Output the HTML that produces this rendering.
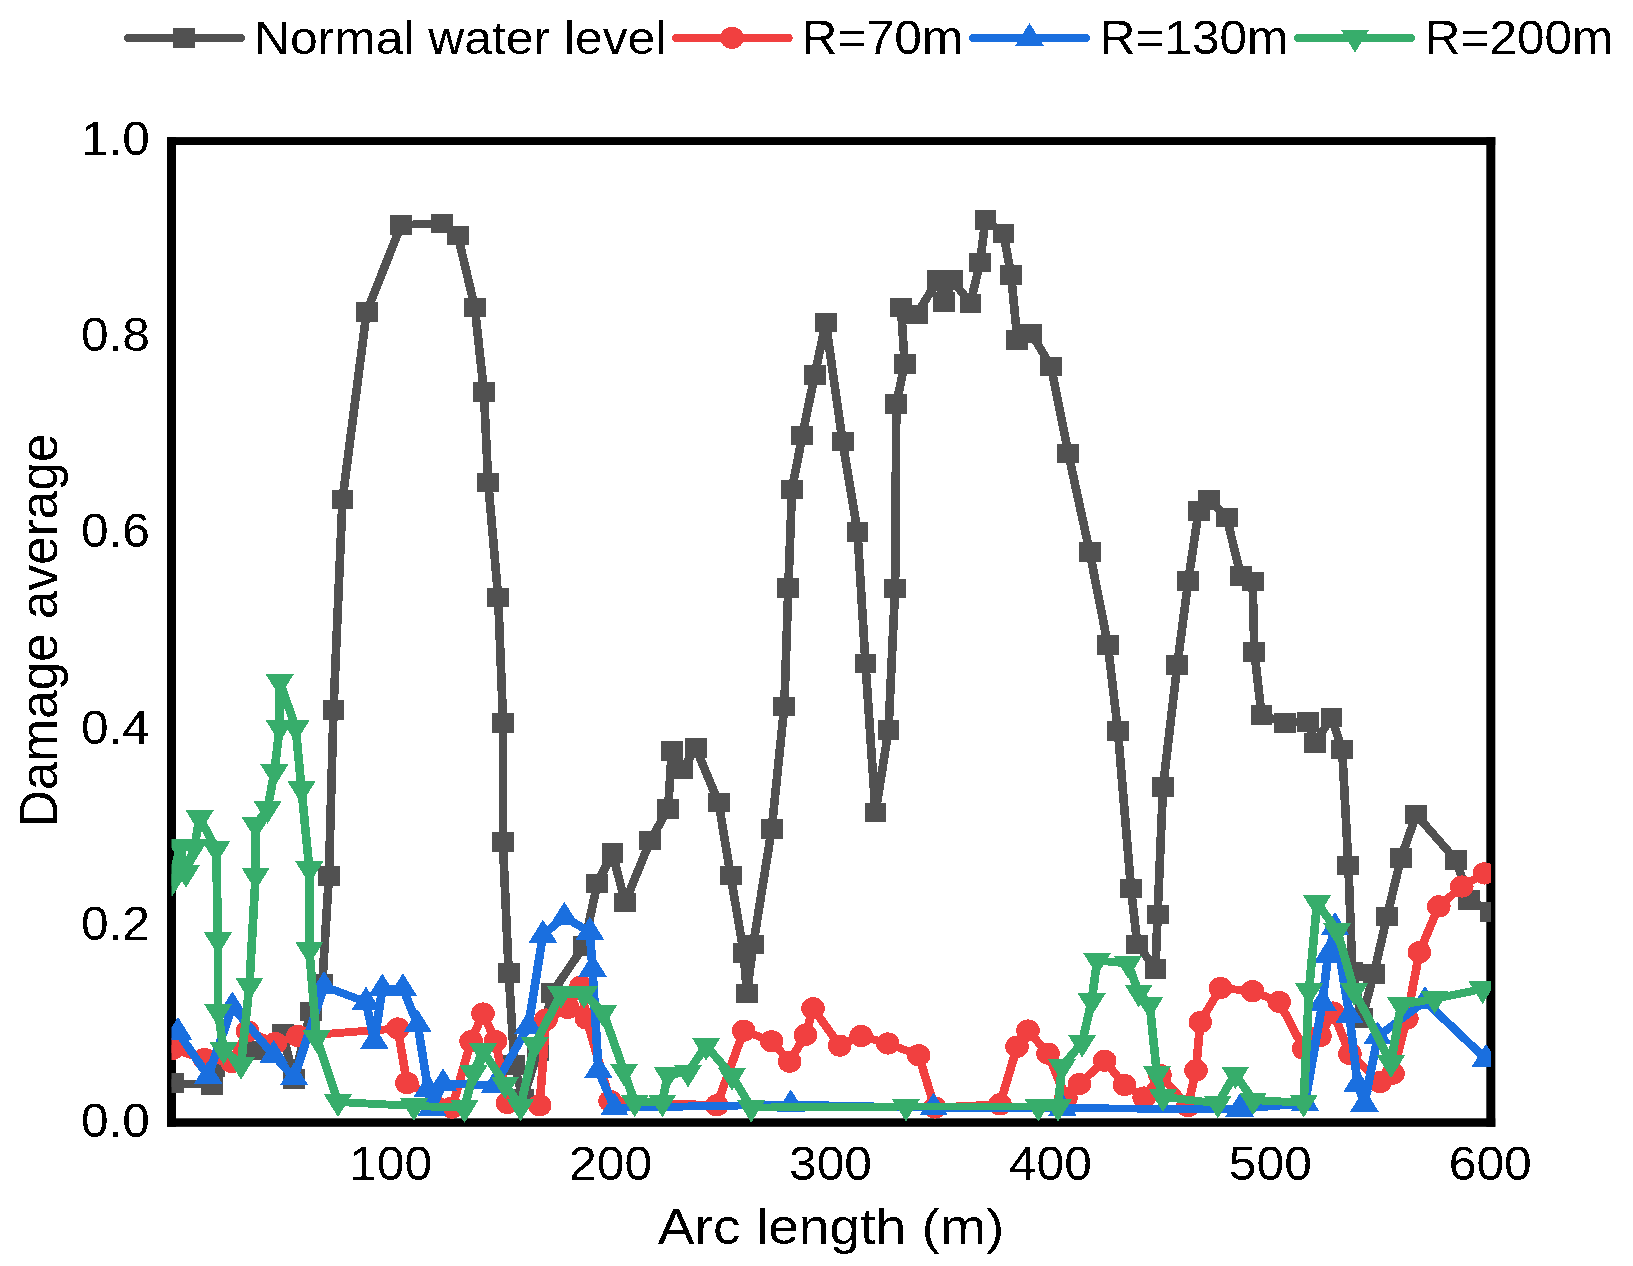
<!DOCTYPE html>
<html><head><meta charset="utf-8"><title>Damage average vs Arc length</title>
<style>html,body{margin:0;padding:0;background:#fff;} svg{display:block;}</style></head>
<body>
<svg width="1633" height="1266" viewBox="0 0 1633 1266">
<rect width="1633" height="1266" fill="#fff"/>
<g fill="#000">
<rect x="167.0" y="137.1" width="9.0" height="989.7"/>
<rect x="1486.3" y="137.1" width="9.0" height="989.7"/>
<rect x="167.0" y="137.1" width="1328.3" height="7.9"/>
<rect x="167.0" y="1118.3" width="1328.3" height="8.5"/>
</g>
<clipPath id="pc"><rect x="171.5" y="141.0" width="1319.5" height="981.5"/></clipPath>
<g clip-path="url(#pc)" shape-rendering="crispEdges">
<polyline transform="scale(1.1,1)" points="157.27,1083.00 192.73,1085.00 195.00,1067.00 232.27,1050.50 256.91,1033.50 267.27,1079.00 282.55,1011.30 293.00,983.80 299.00,875.80 303.18,709.80 311.36,499.70 333.27,312.10 364.82,224.80 401.45,223.60 416.18,235.50 431.64,307.30 439.91,391.80 443.82,482.30 452.91,597.70 457.36,722.90 457.18,842.20 462.45,972.80 467.64,1065.00 475.45,1099.00 489.09,1051.00 501.82,993.00 530.91,946.00 543.00,883.40 556.82,853.10 568.27,902.40 591.27,840.50 607.36,808.90 610.73,750.80 620.00,769.70 632.64,748.20 653.27,802.60 664.27,875.40 676.09,952.80 679.00,993.30 684.82,944.30 701.55,829.10 713.00,706.50 716.64,587.90 720.00,489.40 729.45,435.50 740.64,374.90 750.73,322.70 766.00,441.70 779.55,531.80 786.82,663.60 795.91,812.70 807.73,730.00 813.73,588.60 814.82,403.80 822.45,363.90 819.09,307.60 833.55,314.30 852.64,279.60 858.09,302.20 865.73,280.20 882.27,303.30 890.91,262.50 895.91,219.90 912.27,233.30 919.18,275.00 924.91,339.90 937.55,333.60 955.45,366.30 971.27,453.70 990.64,552.00 1007.18,644.80 1016.27,730.80 1028.18,888.50 1033.91,944.30 1050.45,968.80 1052.36,914.40 1057.27,787.00 1070.27,665.00 1080.27,580.80 1089.64,511.10 1099.27,499.80 1115.18,517.50 1128.09,576.20 1138.73,581.50 1140.36,651.90 1146.82,714.80 1167.82,723.00 1189.45,721.90 1195.27,743.20 1210.45,717.30 1220.18,749.60 1225.82,865.60 1229.36,971.30 1238.18,1018.00 1249.00,973.90 1260.91,916.70 1273.64,857.90 1287.55,814.60 1323.64,860.10 1335.82,900.00 1355.45,911.80" fill="none" stroke="#515151" stroke-width="7.9" stroke-linejoin="round" stroke-linecap="round"/>
<rect x="162.05" y="1073.25" width="21.9" height="19.5" fill="#515151"/>
<rect x="201.05" y="1075.25" width="21.9" height="19.5" fill="#515151"/>
<rect x="203.55" y="1057.25" width="21.9" height="19.5" fill="#515151"/>
<rect x="244.55" y="1040.75" width="21.9" height="19.5" fill="#515151"/>
<rect x="271.65" y="1023.75" width="21.9" height="19.5" fill="#515151"/>
<rect x="283.05" y="1069.25" width="21.9" height="19.5" fill="#515151"/>
<rect x="299.85" y="1001.55" width="21.9" height="19.5" fill="#515151"/>
<rect x="311.35" y="974.05" width="21.9" height="19.5" fill="#515151"/>
<rect x="317.95" y="866.05" width="21.9" height="19.5" fill="#515151"/>
<rect x="322.55" y="700.05" width="21.9" height="19.5" fill="#515151"/>
<rect x="331.55" y="489.95" width="21.9" height="19.5" fill="#515151"/>
<rect x="355.65" y="302.35" width="21.9" height="19.5" fill="#515151"/>
<rect x="390.35" y="215.05" width="21.9" height="19.5" fill="#515151"/>
<rect x="430.65" y="213.85" width="21.9" height="19.5" fill="#515151"/>
<rect x="446.85" y="225.75" width="21.9" height="19.5" fill="#515151"/>
<rect x="463.85" y="297.55" width="21.9" height="19.5" fill="#515151"/>
<rect x="472.95" y="382.05" width="21.9" height="19.5" fill="#515151"/>
<rect x="477.25" y="472.55" width="21.9" height="19.5" fill="#515151"/>
<rect x="487.25" y="587.95" width="21.9" height="19.5" fill="#515151"/>
<rect x="492.15" y="713.15" width="21.9" height="19.5" fill="#515151"/>
<rect x="491.95" y="832.45" width="21.9" height="19.5" fill="#515151"/>
<rect x="497.75" y="963.05" width="21.9" height="19.5" fill="#515151"/>
<rect x="503.45" y="1055.25" width="21.9" height="19.5" fill="#515151"/>
<rect x="512.05" y="1089.25" width="21.9" height="19.5" fill="#515151"/>
<rect x="527.05" y="1041.25" width="21.9" height="19.5" fill="#515151"/>
<rect x="541.05" y="983.25" width="21.9" height="19.5" fill="#515151"/>
<rect x="573.05" y="936.25" width="21.9" height="19.5" fill="#515151"/>
<rect x="586.35" y="873.65" width="21.9" height="19.5" fill="#515151"/>
<rect x="601.55" y="843.35" width="21.9" height="19.5" fill="#515151"/>
<rect x="614.15" y="892.65" width="21.9" height="19.5" fill="#515151"/>
<rect x="639.45" y="830.75" width="21.9" height="19.5" fill="#515151"/>
<rect x="657.15" y="799.15" width="21.9" height="19.5" fill="#515151"/>
<rect x="660.85" y="741.05" width="21.9" height="19.5" fill="#515151"/>
<rect x="671.05" y="759.95" width="21.9" height="19.5" fill="#515151"/>
<rect x="684.95" y="738.45" width="21.9" height="19.5" fill="#515151"/>
<rect x="707.65" y="792.85" width="21.9" height="19.5" fill="#515151"/>
<rect x="719.75" y="865.65" width="21.9" height="19.5" fill="#515151"/>
<rect x="732.75" y="943.05" width="21.9" height="19.5" fill="#515151"/>
<rect x="735.95" y="983.55" width="21.9" height="19.5" fill="#515151"/>
<rect x="742.35" y="934.55" width="21.9" height="19.5" fill="#515151"/>
<rect x="760.75" y="819.35" width="21.9" height="19.5" fill="#515151"/>
<rect x="773.35" y="696.75" width="21.9" height="19.5" fill="#515151"/>
<rect x="777.35" y="578.15" width="21.9" height="19.5" fill="#515151"/>
<rect x="781.05" y="479.65" width="21.9" height="19.5" fill="#515151"/>
<rect x="791.45" y="425.75" width="21.9" height="19.5" fill="#515151"/>
<rect x="803.75" y="365.15" width="21.9" height="19.5" fill="#515151"/>
<rect x="814.85" y="312.95" width="21.9" height="19.5" fill="#515151"/>
<rect x="831.65" y="431.95" width="21.9" height="19.5" fill="#515151"/>
<rect x="846.55" y="522.05" width="21.9" height="19.5" fill="#515151"/>
<rect x="854.55" y="653.85" width="21.9" height="19.5" fill="#515151"/>
<rect x="864.55" y="802.95" width="21.9" height="19.5" fill="#515151"/>
<rect x="877.55" y="720.25" width="21.9" height="19.5" fill="#515151"/>
<rect x="884.15" y="578.85" width="21.9" height="19.5" fill="#515151"/>
<rect x="885.35" y="394.05" width="21.9" height="19.5" fill="#515151"/>
<rect x="893.75" y="354.15" width="21.9" height="19.5" fill="#515151"/>
<rect x="890.05" y="297.85" width="21.9" height="19.5" fill="#515151"/>
<rect x="905.95" y="304.55" width="21.9" height="19.5" fill="#515151"/>
<rect x="926.95" y="269.85" width="21.9" height="19.5" fill="#515151"/>
<rect x="932.95" y="292.45" width="21.9" height="19.5" fill="#515151"/>
<rect x="941.35" y="270.45" width="21.9" height="19.5" fill="#515151"/>
<rect x="959.55" y="293.55" width="21.9" height="19.5" fill="#515151"/>
<rect x="969.05" y="252.75" width="21.9" height="19.5" fill="#515151"/>
<rect x="974.55" y="210.15" width="21.9" height="19.5" fill="#515151"/>
<rect x="992.55" y="223.55" width="21.9" height="19.5" fill="#515151"/>
<rect x="1000.15" y="265.25" width="21.9" height="19.5" fill="#515151"/>
<rect x="1006.45" y="330.15" width="21.9" height="19.5" fill="#515151"/>
<rect x="1020.35" y="323.85" width="21.9" height="19.5" fill="#515151"/>
<rect x="1040.05" y="356.55" width="21.9" height="19.5" fill="#515151"/>
<rect x="1057.45" y="443.95" width="21.9" height="19.5" fill="#515151"/>
<rect x="1078.75" y="542.25" width="21.9" height="19.5" fill="#515151"/>
<rect x="1096.95" y="635.05" width="21.9" height="19.5" fill="#515151"/>
<rect x="1106.95" y="721.05" width="21.9" height="19.5" fill="#515151"/>
<rect x="1120.05" y="878.75" width="21.9" height="19.5" fill="#515151"/>
<rect x="1126.35" y="934.55" width="21.9" height="19.5" fill="#515151"/>
<rect x="1144.55" y="959.05" width="21.9" height="19.5" fill="#515151"/>
<rect x="1146.65" y="904.65" width="21.9" height="19.5" fill="#515151"/>
<rect x="1152.05" y="777.25" width="21.9" height="19.5" fill="#515151"/>
<rect x="1166.35" y="655.25" width="21.9" height="19.5" fill="#515151"/>
<rect x="1177.35" y="571.05" width="21.9" height="19.5" fill="#515151"/>
<rect x="1187.65" y="501.35" width="21.9" height="19.5" fill="#515151"/>
<rect x="1198.25" y="490.05" width="21.9" height="19.5" fill="#515151"/>
<rect x="1215.75" y="507.75" width="21.9" height="19.5" fill="#515151"/>
<rect x="1229.95" y="566.45" width="21.9" height="19.5" fill="#515151"/>
<rect x="1241.65" y="571.75" width="21.9" height="19.5" fill="#515151"/>
<rect x="1243.45" y="642.15" width="21.9" height="19.5" fill="#515151"/>
<rect x="1250.55" y="705.05" width="21.9" height="19.5" fill="#515151"/>
<rect x="1273.65" y="713.25" width="21.9" height="19.5" fill="#515151"/>
<rect x="1297.45" y="712.15" width="21.9" height="19.5" fill="#515151"/>
<rect x="1303.85" y="733.45" width="21.9" height="19.5" fill="#515151"/>
<rect x="1320.55" y="707.55" width="21.9" height="19.5" fill="#515151"/>
<rect x="1331.25" y="739.85" width="21.9" height="19.5" fill="#515151"/>
<rect x="1337.45" y="855.85" width="21.9" height="19.5" fill="#515151"/>
<rect x="1341.35" y="961.55" width="21.9" height="19.5" fill="#515151"/>
<rect x="1351.05" y="1008.25" width="21.9" height="19.5" fill="#515151"/>
<rect x="1362.95" y="964.15" width="21.9" height="19.5" fill="#515151"/>
<rect x="1376.05" y="906.95" width="21.9" height="19.5" fill="#515151"/>
<rect x="1390.05" y="848.15" width="21.9" height="19.5" fill="#515151"/>
<rect x="1405.35" y="804.85" width="21.9" height="19.5" fill="#515151"/>
<rect x="1445.05" y="850.35" width="21.9" height="19.5" fill="#515151"/>
<rect x="1458.45" y="890.25" width="21.9" height="19.5" fill="#515151"/>
<rect x="1480.05" y="902.05" width="21.9" height="19.5" fill="#515151"/>
<polyline transform="scale(1.1,1)" points="156.36,1049.00 185.91,1059.00 210.82,1062.00 225.00,1031.30 250.36,1043.00 270.91,1036.00 361.55,1028.50 370.00,1083.00 410.91,1107.60 428.27,1041.10 439.09,1013.50 450.55,1041.10 461.36,1103.00 490.64,1105.30 496.36,1019.50 516.36,1008.00 528.18,986.50 533.18,1018.50 554.64,1101.00 651.64,1105.30 676.09,1030.70 701.36,1041.30 717.82,1061.60 732.36,1034.90 739.18,1008.30 763.36,1045.60 782.82,1036.00 807.00,1043.50 835.18,1055.20 849.73,1107.50 909.09,1104.30 924.64,1046.70 934.55,1030.50 952.73,1053.60 969.09,1098.00 981.27,1084.00 1004.18,1060.70 1022.27,1085.00 1040.18,1097.50 1054.55,1075.00 1080.00,1106.00 1087.27,1070.30 1091.18,1022.10 1109.55,988.00 1138.64,991.20 1162.91,1001.90 1185.18,1048.80 1200.00,1036.00 1211.82,1012.50 1227.27,1054.00 1254.55,1082.00 1266.36,1073.60 1278.91,1018.60 1290.36,952.20 1308.00,906.40 1328.91,886.50 1349.55,873.40" fill="none" stroke="#F14040" stroke-width="7.9" stroke-linejoin="round" stroke-linecap="round"/>
<ellipse cx="172.00" cy="1049.00" rx="11.8" ry="11.1" fill="#F14040"/>
<ellipse cx="204.50" cy="1059.00" rx="11.8" ry="11.1" fill="#F14040"/>
<ellipse cx="231.90" cy="1062.00" rx="11.8" ry="11.1" fill="#F14040"/>
<ellipse cx="247.50" cy="1031.30" rx="11.8" ry="11.1" fill="#F14040"/>
<ellipse cx="275.40" cy="1043.00" rx="11.8" ry="11.1" fill="#F14040"/>
<ellipse cx="298.00" cy="1036.00" rx="11.8" ry="11.1" fill="#F14040"/>
<ellipse cx="397.70" cy="1028.50" rx="11.8" ry="11.1" fill="#F14040"/>
<ellipse cx="407.00" cy="1083.00" rx="11.8" ry="11.1" fill="#F14040"/>
<ellipse cx="452.00" cy="1107.60" rx="11.8" ry="11.1" fill="#F14040"/>
<ellipse cx="471.10" cy="1041.10" rx="11.8" ry="11.1" fill="#F14040"/>
<ellipse cx="483.00" cy="1013.50" rx="11.8" ry="11.1" fill="#F14040"/>
<ellipse cx="495.60" cy="1041.10" rx="11.8" ry="11.1" fill="#F14040"/>
<ellipse cx="507.50" cy="1103.00" rx="11.8" ry="11.1" fill="#F14040"/>
<ellipse cx="539.70" cy="1105.30" rx="11.8" ry="11.1" fill="#F14040"/>
<ellipse cx="546.00" cy="1019.50" rx="11.8" ry="11.1" fill="#F14040"/>
<ellipse cx="568.00" cy="1008.00" rx="11.8" ry="11.1" fill="#F14040"/>
<ellipse cx="581.00" cy="986.50" rx="11.8" ry="11.1" fill="#F14040"/>
<ellipse cx="586.50" cy="1018.50" rx="11.8" ry="11.1" fill="#F14040"/>
<ellipse cx="610.10" cy="1101.00" rx="11.8" ry="11.1" fill="#F14040"/>
<ellipse cx="716.80" cy="1105.30" rx="11.8" ry="11.1" fill="#F14040"/>
<ellipse cx="743.70" cy="1030.70" rx="11.8" ry="11.1" fill="#F14040"/>
<ellipse cx="771.50" cy="1041.30" rx="11.8" ry="11.1" fill="#F14040"/>
<ellipse cx="789.60" cy="1061.60" rx="11.8" ry="11.1" fill="#F14040"/>
<ellipse cx="805.60" cy="1034.90" rx="11.8" ry="11.1" fill="#F14040"/>
<ellipse cx="813.10" cy="1008.30" rx="11.8" ry="11.1" fill="#F14040"/>
<ellipse cx="839.70" cy="1045.60" rx="11.8" ry="11.1" fill="#F14040"/>
<ellipse cx="861.10" cy="1036.00" rx="11.8" ry="11.1" fill="#F14040"/>
<ellipse cx="887.70" cy="1043.50" rx="11.8" ry="11.1" fill="#F14040"/>
<ellipse cx="918.70" cy="1055.20" rx="11.8" ry="11.1" fill="#F14040"/>
<ellipse cx="934.70" cy="1107.50" rx="11.8" ry="11.1" fill="#F14040"/>
<ellipse cx="1000.00" cy="1104.30" rx="11.8" ry="11.1" fill="#F14040"/>
<ellipse cx="1017.10" cy="1046.70" rx="11.8" ry="11.1" fill="#F14040"/>
<ellipse cx="1028.00" cy="1030.50" rx="11.8" ry="11.1" fill="#F14040"/>
<ellipse cx="1048.00" cy="1053.60" rx="11.8" ry="11.1" fill="#F14040"/>
<ellipse cx="1066.00" cy="1098.00" rx="11.8" ry="11.1" fill="#F14040"/>
<ellipse cx="1079.40" cy="1084.00" rx="11.8" ry="11.1" fill="#F14040"/>
<ellipse cx="1104.60" cy="1060.70" rx="11.8" ry="11.1" fill="#F14040"/>
<ellipse cx="1124.50" cy="1085.00" rx="11.8" ry="11.1" fill="#F14040"/>
<ellipse cx="1144.20" cy="1097.50" rx="11.8" ry="11.1" fill="#F14040"/>
<ellipse cx="1160.00" cy="1075.00" rx="11.8" ry="11.1" fill="#F14040"/>
<ellipse cx="1188.00" cy="1106.00" rx="11.8" ry="11.1" fill="#F14040"/>
<ellipse cx="1196.00" cy="1070.30" rx="11.8" ry="11.1" fill="#F14040"/>
<ellipse cx="1200.30" cy="1022.10" rx="11.8" ry="11.1" fill="#F14040"/>
<ellipse cx="1220.50" cy="988.00" rx="11.8" ry="11.1" fill="#F14040"/>
<ellipse cx="1252.50" cy="991.20" rx="11.8" ry="11.1" fill="#F14040"/>
<ellipse cx="1279.20" cy="1001.90" rx="11.8" ry="11.1" fill="#F14040"/>
<ellipse cx="1303.70" cy="1048.80" rx="11.8" ry="11.1" fill="#F14040"/>
<ellipse cx="1320.00" cy="1036.00" rx="11.8" ry="11.1" fill="#F14040"/>
<ellipse cx="1333.00" cy="1012.50" rx="11.8" ry="11.1" fill="#F14040"/>
<ellipse cx="1350.00" cy="1054.00" rx="11.8" ry="11.1" fill="#F14040"/>
<ellipse cx="1380.00" cy="1082.00" rx="11.8" ry="11.1" fill="#F14040"/>
<ellipse cx="1393.00" cy="1073.60" rx="11.8" ry="11.1" fill="#F14040"/>
<ellipse cx="1406.80" cy="1018.60" rx="11.8" ry="11.1" fill="#F14040"/>
<ellipse cx="1419.40" cy="952.20" rx="11.8" ry="11.1" fill="#F14040"/>
<ellipse cx="1438.80" cy="906.40" rx="11.8" ry="11.1" fill="#F14040"/>
<ellipse cx="1461.80" cy="886.50" rx="11.8" ry="11.1" fill="#F14040"/>
<ellipse cx="1484.50" cy="873.40" rx="11.8" ry="11.1" fill="#F14040"/>
<polyline transform="scale(1.1,1)" points="161.82,1032.30 189.27,1076.10 211.18,1006.60 248.82,1055.30 267.36,1077.80 294.55,986.30 332.73,1002.00 340.36,1041.30 347.55,988.80 366.27,988.50 379.73,1024.70 389.09,1089.00 392.73,1108.00 402.82,1083.60 449.82,1085.50 480.36,1026.20 493.55,935.00 513.00,917.00 536.27,932.00 538.64,969.00 544.00,1070.50 558.55,1107.80 718.82,1104.60 848.73,1107.80 965.82,1108.30 1127.00,1108.90 1186.36,1103.50 1202.18,1003.00 1207.27,955.00 1213.64,927.40 1226.82,1015.60 1234.18,1084.20 1240.36,1104.00 1252.45,1036.60 1295.55,1001.20 1350.91,1059.10" fill="none" stroke="#1A6FDF" stroke-width="7.9" stroke-linejoin="round" stroke-linecap="round"/>
<polygon points="178.00,1016.97 192.30,1039.97 163.70,1039.97" fill="#1A6FDF"/>
<polygon points="208.20,1060.77 222.50,1083.77 193.90,1083.77" fill="#1A6FDF"/>
<polygon points="232.30,991.27 246.60,1014.27 218.00,1014.27" fill="#1A6FDF"/>
<polygon points="273.70,1039.97 288.00,1062.97 259.40,1062.97" fill="#1A6FDF"/>
<polygon points="294.10,1062.47 308.40,1085.47 279.80,1085.47" fill="#1A6FDF"/>
<polygon points="324.00,970.97 338.30,993.97 309.70,993.97" fill="#1A6FDF"/>
<polygon points="366.00,986.67 380.30,1009.67 351.70,1009.67" fill="#1A6FDF"/>
<polygon points="374.40,1025.97 388.70,1048.97 360.10,1048.97" fill="#1A6FDF"/>
<polygon points="382.30,973.47 396.60,996.47 368.00,996.47" fill="#1A6FDF"/>
<polygon points="402.90,973.17 417.20,996.17 388.60,996.17" fill="#1A6FDF"/>
<polygon points="417.70,1009.37 432.00,1032.37 403.40,1032.37" fill="#1A6FDF"/>
<polygon points="428.00,1073.67 442.30,1096.67 413.70,1096.67" fill="#1A6FDF"/>
<polygon points="432.00,1092.67 446.30,1115.67 417.70,1115.67" fill="#1A6FDF"/>
<polygon points="443.10,1068.27 457.40,1091.27 428.80,1091.27" fill="#1A6FDF"/>
<polygon points="494.80,1070.17 509.10,1093.17 480.50,1093.17" fill="#1A6FDF"/>
<polygon points="528.40,1010.87 542.70,1033.87 514.10,1033.87" fill="#1A6FDF"/>
<polygon points="542.90,919.67 557.20,942.67 528.60,942.67" fill="#1A6FDF"/>
<polygon points="564.30,901.67 578.60,924.67 550.00,924.67" fill="#1A6FDF"/>
<polygon points="589.90,916.67 604.20,939.67 575.60,939.67" fill="#1A6FDF"/>
<polygon points="592.50,953.67 606.80,976.67 578.20,976.67" fill="#1A6FDF"/>
<polygon points="598.40,1055.17 612.70,1078.17 584.10,1078.17" fill="#1A6FDF"/>
<polygon points="614.40,1092.47 628.70,1115.47 600.10,1115.47" fill="#1A6FDF"/>
<polygon points="790.70,1089.27 805.00,1112.27 776.40,1112.27" fill="#1A6FDF"/>
<polygon points="933.60,1092.47 947.90,1115.47 919.30,1115.47" fill="#1A6FDF"/>
<polygon points="1062.40,1092.97 1076.70,1115.97 1048.10,1115.97" fill="#1A6FDF"/>
<polygon points="1239.70,1093.57 1254.00,1116.57 1225.40,1116.57" fill="#1A6FDF"/>
<polygon points="1305.00,1088.17 1319.30,1111.17 1290.70,1111.17" fill="#1A6FDF"/>
<polygon points="1322.40,987.67 1336.70,1010.67 1308.10,1010.67" fill="#1A6FDF"/>
<polygon points="1328.00,939.67 1342.30,962.67 1313.70,962.67" fill="#1A6FDF"/>
<polygon points="1335.00,912.07 1349.30,935.07 1320.70,935.07" fill="#1A6FDF"/>
<polygon points="1349.50,1000.27 1363.80,1023.27 1335.20,1023.27" fill="#1A6FDF"/>
<polygon points="1357.60,1068.87 1371.90,1091.87 1343.30,1091.87" fill="#1A6FDF"/>
<polygon points="1364.40,1088.67 1378.70,1111.67 1350.10,1111.67" fill="#1A6FDF"/>
<polygon points="1377.70,1021.27 1392.00,1044.27 1363.40,1044.27" fill="#1A6FDF"/>
<polygon points="1425.10,985.87 1439.40,1008.87 1410.80,1008.87" fill="#1A6FDF"/>
<polygon points="1486.00,1043.77 1500.30,1066.77 1471.70,1066.77" fill="#1A6FDF"/>
<polyline transform="scale(1.1,1)" points="156.36,881.80 163.64,846.60 169.09,872.60 176.73,847.00 181.45,817.90 196.55,848.90 198.18,940.00 198.18,1011.50 203.27,1049.70 219.09,1064.50 226.73,985.60 232.36,875.50 232.45,824.80 243.27,808.70 249.45,771.90 254.18,727.60 254.27,681.80 268.82,727.60 274.09,788.90 281.18,869.00 281.18,949.70 287.73,1037.80 307.27,1102.00 376.27,1105.90 422.27,1107.80 430.45,1072.90 439.09,1050.80 459.18,1084.30 473.18,1106.20 486.18,1044.60 510.00,993.70 530.91,993.70 548.45,1012.50 567.27,1071.30 577.00,1102.30 602.18,1102.30 607.00,1074.60 625.45,1072.40 641.91,1045.70 665.45,1075.60 682.91,1107.60 823.55,1106.50 944.00,1106.50 961.82,1106.80 965.36,1066.70 983.73,1042.60 992.45,1000.90 997.36,960.40 1025.45,963.60 1035.18,992.40 1045.18,1004.10 1051.73,1073.80 1057.18,1096.90 1107.09,1103.30 1123.00,1074.10 1139.09,1100.10 1185.18,1102.60 1190.00,990.90 1197.27,902.80 1215.64,930.70 1231.09,990.70 1264.55,1063.00 1273.73,1004.90 1304.18,998.80 1347.82,989.00" fill="none" stroke="#37AD6B" stroke-width="7.9" stroke-linejoin="round" stroke-linecap="round"/>
<polygon points="158.00,874.27 186.00,874.27 172.00,896.87" fill="#37AD6B"/>
<polygon points="166.00,839.07 194.00,839.07 180.00,861.67" fill="#37AD6B"/>
<polygon points="172.00,865.07 200.00,865.07 186.00,887.67" fill="#37AD6B"/>
<polygon points="180.40,839.47 208.40,839.47 194.40,862.07" fill="#37AD6B"/>
<polygon points="185.60,810.37 213.60,810.37 199.60,832.97" fill="#37AD6B"/>
<polygon points="202.20,841.37 230.20,841.37 216.20,863.97" fill="#37AD6B"/>
<polygon points="204.00,932.47 232.00,932.47 218.00,955.07" fill="#37AD6B"/>
<polygon points="204.00,1003.97 232.00,1003.97 218.00,1026.57" fill="#37AD6B"/>
<polygon points="209.60,1042.17 237.60,1042.17 223.60,1064.77" fill="#37AD6B"/>
<polygon points="227.00,1056.97 255.00,1056.97 241.00,1079.57" fill="#37AD6B"/>
<polygon points="235.40,978.07 263.40,978.07 249.40,1000.67" fill="#37AD6B"/>
<polygon points="241.60,867.97 269.60,867.97 255.60,890.57" fill="#37AD6B"/>
<polygon points="241.70,817.27 269.70,817.27 255.70,839.87" fill="#37AD6B"/>
<polygon points="253.60,801.17 281.60,801.17 267.60,823.77" fill="#37AD6B"/>
<polygon points="260.40,764.37 288.40,764.37 274.40,786.97" fill="#37AD6B"/>
<polygon points="265.60,720.07 293.60,720.07 279.60,742.67" fill="#37AD6B"/>
<polygon points="265.70,674.27 293.70,674.27 279.70,696.87" fill="#37AD6B"/>
<polygon points="281.70,720.07 309.70,720.07 295.70,742.67" fill="#37AD6B"/>
<polygon points="287.50,781.37 315.50,781.37 301.50,803.97" fill="#37AD6B"/>
<polygon points="295.30,861.47 323.30,861.47 309.30,884.07" fill="#37AD6B"/>
<polygon points="295.30,942.17 323.30,942.17 309.30,964.77" fill="#37AD6B"/>
<polygon points="302.50,1030.27 330.50,1030.27 316.50,1052.87" fill="#37AD6B"/>
<polygon points="324.00,1094.47 352.00,1094.47 338.00,1117.07" fill="#37AD6B"/>
<polygon points="399.90,1098.37 427.90,1098.37 413.90,1120.97" fill="#37AD6B"/>
<polygon points="450.50,1100.27 478.50,1100.27 464.50,1122.87" fill="#37AD6B"/>
<polygon points="459.50,1065.37 487.50,1065.37 473.50,1087.97" fill="#37AD6B"/>
<polygon points="469.00,1043.27 497.00,1043.27 483.00,1065.87" fill="#37AD6B"/>
<polygon points="491.10,1076.77 519.10,1076.77 505.10,1099.37" fill="#37AD6B"/>
<polygon points="506.50,1098.67 534.50,1098.67 520.50,1121.27" fill="#37AD6B"/>
<polygon points="520.80,1037.07 548.80,1037.07 534.80,1059.67" fill="#37AD6B"/>
<polygon points="547.00,986.17 575.00,986.17 561.00,1008.77" fill="#37AD6B"/>
<polygon points="570.00,986.17 598.00,986.17 584.00,1008.77" fill="#37AD6B"/>
<polygon points="589.30,1004.97 617.30,1004.97 603.30,1027.57" fill="#37AD6B"/>
<polygon points="610.00,1063.77 638.00,1063.77 624.00,1086.37" fill="#37AD6B"/>
<polygon points="620.70,1094.77 648.70,1094.77 634.70,1117.37" fill="#37AD6B"/>
<polygon points="648.40,1094.77 676.40,1094.77 662.40,1117.37" fill="#37AD6B"/>
<polygon points="653.70,1067.07 681.70,1067.07 667.70,1089.67" fill="#37AD6B"/>
<polygon points="674.00,1064.87 702.00,1064.87 688.00,1087.47" fill="#37AD6B"/>
<polygon points="692.10,1038.17 720.10,1038.17 706.10,1060.77" fill="#37AD6B"/>
<polygon points="718.00,1068.07 746.00,1068.07 732.00,1090.67" fill="#37AD6B"/>
<polygon points="737.20,1100.07 765.20,1100.07 751.20,1122.67" fill="#37AD6B"/>
<polygon points="891.90,1098.97 919.90,1098.97 905.90,1121.57" fill="#37AD6B"/>
<polygon points="1024.40,1098.97 1052.40,1098.97 1038.40,1121.57" fill="#37AD6B"/>
<polygon points="1044.00,1099.27 1072.00,1099.27 1058.00,1121.87" fill="#37AD6B"/>
<polygon points="1047.90,1059.17 1075.90,1059.17 1061.90,1081.77" fill="#37AD6B"/>
<polygon points="1068.10,1035.07 1096.10,1035.07 1082.10,1057.67" fill="#37AD6B"/>
<polygon points="1077.70,993.37 1105.70,993.37 1091.70,1015.97" fill="#37AD6B"/>
<polygon points="1083.10,952.87 1111.10,952.87 1097.10,975.47" fill="#37AD6B"/>
<polygon points="1114.00,956.07 1142.00,956.07 1128.00,978.67" fill="#37AD6B"/>
<polygon points="1124.70,984.87 1152.70,984.87 1138.70,1007.47" fill="#37AD6B"/>
<polygon points="1135.70,996.57 1163.70,996.57 1149.70,1019.17" fill="#37AD6B"/>
<polygon points="1142.90,1066.27 1170.90,1066.27 1156.90,1088.87" fill="#37AD6B"/>
<polygon points="1148.90,1089.37 1176.90,1089.37 1162.90,1111.97" fill="#37AD6B"/>
<polygon points="1203.80,1095.77 1231.80,1095.77 1217.80,1118.37" fill="#37AD6B"/>
<polygon points="1221.30,1066.57 1249.30,1066.57 1235.30,1089.17" fill="#37AD6B"/>
<polygon points="1239.00,1092.57 1267.00,1092.57 1253.00,1115.17" fill="#37AD6B"/>
<polygon points="1289.70,1095.07 1317.70,1095.07 1303.70,1117.67" fill="#37AD6B"/>
<polygon points="1295.00,983.37 1323.00,983.37 1309.00,1005.97" fill="#37AD6B"/>
<polygon points="1303.00,895.27 1331.00,895.27 1317.00,917.87" fill="#37AD6B"/>
<polygon points="1323.20,923.17 1351.20,923.17 1337.20,945.77" fill="#37AD6B"/>
<polygon points="1340.20,983.17 1368.20,983.17 1354.20,1005.77" fill="#37AD6B"/>
<polygon points="1377.00,1055.47 1405.00,1055.47 1391.00,1078.07" fill="#37AD6B"/>
<polygon points="1387.10,997.37 1415.10,997.37 1401.10,1019.97" fill="#37AD6B"/>
<polygon points="1420.60,991.27 1448.60,991.27 1434.60,1013.87" fill="#37AD6B"/>
<polygon points="1468.60,981.47 1496.60,981.47 1482.60,1004.07" fill="#37AD6B"/>
</g>
<g shape-rendering="crispEdges">
<line x1="128.0" y1="38" x2="240.8" y2="38" stroke="#515151" stroke-width="7.9" stroke-linecap="round"/>
<rect x="173.2" y="28.2" width="21.6" height="19.5" fill="#515151"/>
<line x1="676.0" y1="38" x2="788.7" y2="38" stroke="#F14040" stroke-width="7.9" stroke-linecap="round"/>
<ellipse cx="732.00" cy="37.90" rx="11.8" ry="11.1" fill="#F14040"/>
<line x1="973.1" y1="38" x2="1086.0" y2="38" stroke="#1A6FDF" stroke-width="7.9" stroke-linecap="round"/>
<polygon points="1029.50,22.97 1043.80,45.97 1015.20,45.97" fill="#1A6FDF"/>
<line x1="1298.0" y1="38" x2="1411.1" y2="38" stroke="#37AD6B" stroke-width="7.9" stroke-linecap="round"/>
<polygon points="1341.00,30.07 1369.00,30.07 1355.00,52.67" fill="#37AD6B"/>
</g>
<defs><filter id="crisp" x="-5%" y="-5%" width="110%" height="110%"><feComponentTransfer><feFuncA type="discrete" tableValues="0 1"/></feComponentTransfer></filter></defs>
<g font-family="'Liberation Sans', Arial, Helvetica, sans-serif" fill="#000" filter="url(#crisp)">
<text transform="translate(253.91,54.07) scale(1.0844,1)" font-size="45.95">Normal water level</text>
<text transform="translate(801.62,53.88) scale(1.0336,1)" font-size="48.11">R=70m</text>
<text transform="translate(1099.84,53.52) scale(1.0401,1)" font-size="47.60">R=130m</text>
<text transform="translate(1424.84,53.53) scale(1.0448,1)" font-size="47.36">R=200m</text>
<text transform="translate(80.96,154.65) scale(1.0473,1)" font-size="47.42">1.0</text>
<text transform="translate(80.96,351.05) scale(1.0473,1)" font-size="47.42">0.8</text>
<text transform="translate(80.96,547.45) scale(1.0473,1)" font-size="47.42">0.6</text>
<text transform="translate(80.96,743.85) scale(1.0473,1)" font-size="47.42">0.4</text>
<text transform="translate(80.96,940.25) scale(1.0473,1)" font-size="47.42">0.2</text>
<text transform="translate(80.96,1136.65) scale(1.0473,1)" font-size="47.42">0.0</text>
<text transform="translate(349.18,1179.89) scale(1.0533,1)" font-size="47.26">100</text>
<text transform="translate(569.09,1179.89) scale(1.0533,1)" font-size="47.26">200</text>
<text transform="translate(789.01,1179.89) scale(1.0533,1)" font-size="47.26">300</text>
<text transform="translate(1008.93,1179.89) scale(1.0533,1)" font-size="47.26">400</text>
<text transform="translate(1228.84,1179.89) scale(1.0533,1)" font-size="47.26">500</text>
<text transform="translate(1448.76,1179.89) scale(1.0533,1)" font-size="47.26">600</text>
<text transform="translate(657.79,1243.98) scale(1.1032,1)" font-size="50.04">Arc length (m)</text>
<text transform="translate(57.00,827.11) rotate(-90) scale(0.9563,1)" font-size="53.63">Damage average</text>
</g>
</svg>
</body></html>
